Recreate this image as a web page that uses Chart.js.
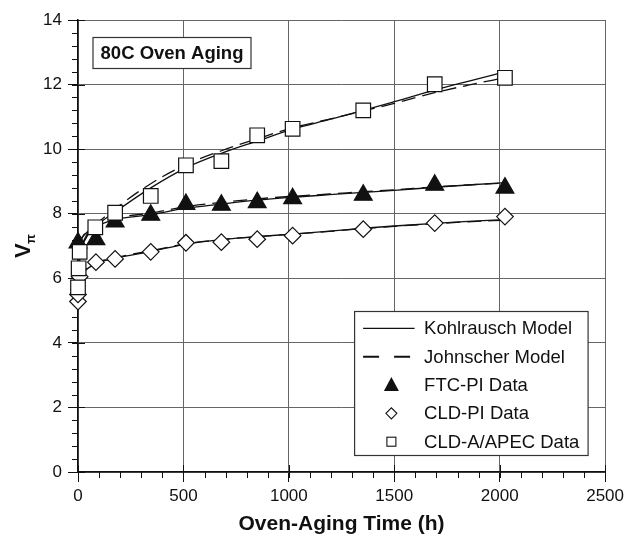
<!DOCTYPE html>
<html><head><meta charset="utf-8">
<script src="https://cdn.jsdelivr.net/npm/chart.js@4/dist/chart.umd.min.js"></script>
<style>html,body{margin:0;padding:0;background:#fff;}canvas{display:block}</style>
</head><body>
<canvas id="c" width="628" height="537"></canvas>
<script>
// ---- data ----
const xTicks = [0, 500, 1000, 1500, 2000, 2500];
const yTicks = [0, 2, 4, 6, 8, 10, 12, 14];

const tFTC = [0, 85, 176, 345, 512, 680, 850, 1018, 1353, 1692, 2025];
const vFTC = [7.1, 7.2, 7.75, 7.96, 8.29, 8.27, 8.35, 8.47, 8.58, 8.89, 8.8];

const tCLDPI = [0, 0, 8, 85, 176, 345, 512, 680, 850, 1018, 1353, 1692, 2025];
const vCLDPI = [5.28, 5.5, 6.05, 6.5, 6.6, 6.82, 7.1, 7.12, 7.21, 7.32, 7.52, 7.71, 7.91];

const tAPEC = [0, 3, 8, 82, 176, 345, 512, 680, 850, 1018, 1353, 1692, 2025];
const vAPEC = [5.72, 6.31, 6.82, 7.58, 8.03, 8.55, 9.5, 9.63, 10.43, 10.63, 11.2, 12.01, 12.21];

const tModel = [0, 10, 30, 84, 176, 345, 512, 680, 850, 1018, 1193, 1353, 1500, 1692, 1850, 2030];
const kohlAPEC = [5.8, 6.7, 7.15, 7.6, 8.05, 8.8, 9.42, 9.87, 10.25, 10.62, 10.92, 11.2, 11.47, 11.83, 12.1, 12.4];
const johnAPEC = [5.8, 6.75, 7.2, 7.65, 8.15, 8.93, 9.52, 9.95, 10.32, 10.66, 10.93, 11.18, 11.42, 11.75, 11.98, 12.22];
const kohlFTC = [7.0, 7.15, 7.35, 7.6, 7.82, 7.97, 8.17, 8.3, 8.42, 8.51, 8.59, 8.66, 8.72, 8.82, 8.89, 8.96];
const johnFTC = [7.0, 7.15, 7.37, 7.63, 7.86, 8.02, 8.22, 8.35, 8.46, 8.54, 8.61, 8.68, 8.74, 8.83, 8.89, 8.95];
const kohlCLDPI = [5.3, 5.95, 6.2, 6.45, 6.62, 6.83, 7.06, 7.2, 7.29, 7.37, 7.46, 7.55, 7.62, 7.7, 7.76, 7.82];
const johnCLDPI = [5.3, 5.97, 6.23, 6.47, 6.64, 6.85, 7.07, 7.2, 7.29, 7.37, 7.45, 7.54, 7.61, 7.69, 7.75, 7.8];

const legendLabels = ['Kohlrausch Model', 'Johnscher Model', 'FTC-PI Data', 'CLD-PI Data', 'CLD-A/APEC Data'];
const boxTitle = '80C Oven Aging';
const xTitle = 'Oven-Aging Time (h)';

// ---- build ----
const pts = (xs, ys) => xs.map((x, i) => ({x, y: ys[i]}));
const INK = '#111';
const FONT = "'Liberation Sans', Arial, sans-serif";

function lineDs(label, ys, dashed) {
  return {label, data: pts(tModel, ys), showLine: true, pointRadius: 0, borderColor: INK,
    borderWidth: 1.3, borderDash: dashed ? [14, 7] : [], cubicInterpolationMode: 'monotone', order: 2, fill: false};
}
function markDs(label, xs, ys, style, r, fillCol) {
  return {label, data: pts(xs, ys), showLine: false, pointStyle: style, pointRadius: r, pointHoverRadius: r,
    pointBackgroundColor: fillCol, pointBorderColor: INK, pointBorderWidth: 1.2, order: 0, clip: false};
}

const datasets = [
  markDs(legendLabels[4], tAPEC, vAPEC, 'rect', 10.3, '#fff'),
  markDs(legendLabels[3], tCLDPI, vCLDPI, 'rectRot', 8.3, '#fff'),
  markDs(legendLabels[2], tFTC, vFTC, 'triangle', 10.3, INK),
  lineDs(legendLabels[0], kohlAPEC, false),
  lineDs(legendLabels[1], johnAPEC, true),
  lineDs(legendLabels[0], kohlFTC, false),
  lineDs(legendLabels[1], johnFTC, true),
  lineDs(legendLabels[0], kohlCLDPI, false),
  lineDs(legendLabels[1], johnCLDPI, true),
];

const overlay = {
  id: 'overlay',
  beforeDatasetsDraw(chart) {
    const {ctx, chartArea: a, scales: {x, y}} = chart;
    ctx.save();
    ctx.strokeStyle = INK; ctx.lineWidth = 1;
    // minor ticks
    for (let i = 0; i <= 35; i++) {
      const py = Math.round(y.getPixelForValue(i * 0.4)) + 0.5;
      ctx.beginPath(); ctx.moveTo(a.left - 6, py); ctx.lineTo(a.left, py); ctx.stroke();
    }
    for (let i = 0; i <= 25; i++) {
      const px = Math.round(x.getPixelForValue(i * 100)) + 0.5;
      ctx.beginPath(); ctx.moveTo(px, a.bottom); ctx.lineTo(px, a.bottom + 6); ctx.stroke();
    }
    // major ticks poking inside
    yTicks.forEach(v => { const py = Math.round(y.getPixelForValue(v)) + 0.5;
      ctx.beginPath(); ctx.moveTo(a.left, py); ctx.lineTo(a.left + 7, py); ctx.stroke(); });
    xTicks.forEach(v => { const px = Math.round(x.getPixelForValue(v)) + 0.5;
      ctx.beginPath(); ctx.moveTo(px, a.bottom); ctx.lineTo(px, a.bottom - 7); ctx.stroke(); });
    ctx.restore();
  },
  afterDraw(chart) {
    const {ctx, chartArea: a} = chart;
    ctx.save();
    // title box
    ctx.fillStyle = '#fff'; ctx.strokeStyle = '#333'; ctx.lineWidth = 1.2;
    ctx.fillRect(a.left + 15, a.top + 17.5, 158, 31);
    ctx.strokeRect(a.left + 15, a.top + 17.5, 158, 31);
    ctx.fillStyle = INK; ctx.font = 'bold 18.5px ' + FONT;
    ctx.textAlign = 'center'; ctx.textBaseline = 'middle';
    ctx.fillText(boxTitle, a.left + 94, a.top + 33.5);

    // legend
    const lx = a.right - 250.5, ly = a.bottom - 160.5, lw = 233.5, lh = 144;
    ctx.fillStyle = '#fff'; ctx.fillRect(lx, ly, lw, lh);
    ctx.strokeStyle = '#333'; ctx.lineWidth = 1.2; ctx.strokeRect(lx, ly, lw, lh);
    ctx.font = '18.5px ' + FONT; ctx.textAlign = 'left'; ctx.textBaseline = 'middle';
    const mx = lx + 36.8;
    legendLabels.forEach((lab, i) => {
      const ry = ly + 16.8 + i * 28.35;
      ctx.fillStyle = INK;
      ctx.fillText(lab, lx + 69.5, ry + 1);
      ctx.strokeStyle = INK; ctx.lineWidth = 1.2;
      if (i === 0) { ctx.beginPath(); ctx.moveTo(lx + 8.5, ry); ctx.lineTo(lx + 60, ry); ctx.stroke(); }
      if (i === 1) { ctx.lineWidth = 2; ctx.setLineDash([16, 15]); ctx.beginPath(); ctx.moveTo(lx + 8.5, ry); ctx.lineTo(lx + 56, ry); ctx.stroke(); ctx.setLineDash([]); }
      if (i === 2) { ctx.beginPath(); ctx.moveTo(mx, ry - 8); ctx.lineTo(mx + 7.5, ry + 6); ctx.lineTo(mx - 7.5, ry + 6); ctx.closePath(); ctx.fill(); }
      if (i === 3) { ctx.lineWidth = 1.1; ctx.beginPath(); ctx.moveTo(mx - 5.5, ry); ctx.lineTo(mx, ry - 5.5); ctx.lineTo(mx + 5.5, ry); ctx.lineTo(mx, ry + 5.5); ctx.closePath(); ctx.stroke(); }
      if (i === 4) { ctx.lineWidth = 1.1; ctx.strokeRect(mx - 4.5, ry - 4.5, 9, 9); }
    });

    // y axis title V with subscript pi
    ctx.translate(30, 258); ctx.rotate(-Math.PI / 2);
    ctx.fillStyle = INK; ctx.textAlign = 'left'; ctx.textBaseline = 'alphabetic';
    ctx.font = 'bold 22px ' + FONT; ctx.fillText('V', 0, 0);
    ctx.font = 'bold 13px ' + FONT; ctx.fillText('\u03c0', 14, 5);
    ctx.restore();
  }
};

new Chart(document.getElementById('c'), {
  type: 'scatter',
  data: {datasets},
  options: {
    responsive: false, animation: false, devicePixelRatio: 1,
    layout: {padding: {left: 0, right: 21, top: 20, bottom: 0}},
    plugins: {legend: {display: false}, tooltip: {enabled: false}},
    scales: {
      x: {
        type: 'linear', min: 0, max: 2500,
        afterBuildTicks: s => { s.ticks = xTicks.map(v => ({value: v})); },
        afterFit: s => { s.height = 65; },
        ticks: {callback: v => String(v), color: INK, font: {family: FONT, size: 17}, padding: 4, maxRotation: 0},
        grid: {color: '#666', lineWidth: 1, tickLength: 10, tickColor: INK, tickWidth: 1},
        border: {color: INK, width: 1.5},
        title: {display: true, text: xTitle, color: INK, font: {family: FONT, size: 21, weight: 'bold'}, padding: {top: 0, bottom: 0}}
      },
      y: {
        type: 'linear', min: 0, max: 14,
        afterBuildTicks: s => { s.ticks = yTicks.map(v => ({value: v})); },
        afterFit: s => { s.width = 78; },
        ticks: {callback: v => String(v), color: INK, font: {family: FONT, size: 17}, padding: 6},
        grid: {color: '#666', lineWidth: 1, tickLength: 10, tickColor: INK, tickWidth: 1},
        border: {color: INK, width: 1.5}
      }
    }
  },
  plugins: [overlay]
});
</script>
</body></html>
